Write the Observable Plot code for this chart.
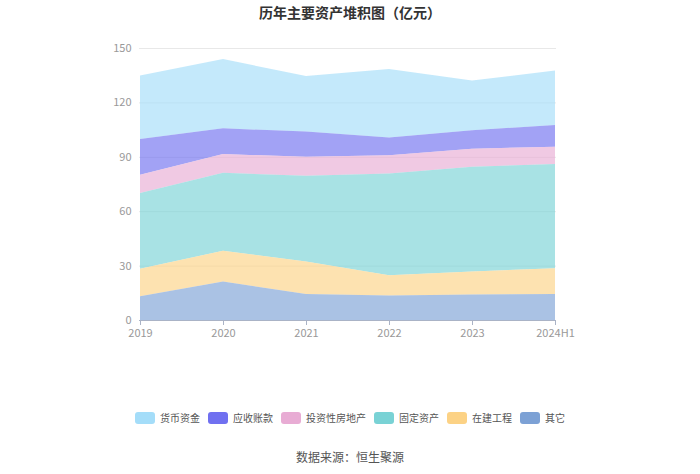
<!DOCTYPE html>
<html><head><meta charset="utf-8">
<script src="https://cdn.jsdelivr.net/npm/d3@7"></script>
<script src="https://cdn.jsdelivr.net/npm/@observablehq/plot@0.6"></script>
<style>
body{margin:0;background:#fff;font-family:"Noto Sans CJK SC","Noto Sans",sans-serif;}
#wrap{position:relative;width:700px;height:474px;overflow:hidden;}
#title{position:absolute;top:2px;left:0;width:700px;text-align:center;font-size:14px;font-weight:bold;color:#333;}
#chart{position:absolute;top:0;left:0;}
#legend{position:absolute;top:410px;left:0;width:700px;display:flex;justify-content:center;font-size:10px;color:#555;}
#legend .item{display:flex;align-items:center;margin:0 4px;}
#legend .sw{width:20px;height:12px;border-radius:3px;margin-right:5px;}
#caption{position:absolute;top:448px;left:0;width:700px;text-align:center;font-size:12px;color:#555;}
</style></head>
<body><div id="wrap"><div id="title">历年主要资产堆积图（亿元）</div><div id="chart"></div><div id="legend"></div><div id="caption">数据来源：恒生聚源</div></div>
<script>
const years = ["2019","2020","2021","2022","2023","2024H1"];
const seriesNames = ["货币资金","应收账款","投资性房地产","固定资产","在建工程","其它"];
const seriesColors = ["#a4ddf9","#7070f0","#e8acd4","#79d2d5","#fcd285","#7ca1d5"];
const money      = [35.1, 38.2, 30.6, 37.8, 27.5, 30.0];
const receivable = [19.7, 14.2, 13.9,  9.8, 10.1, 12.0];
const invProp    = [10.0, 10.3, 10.5, 10.0, 10.0,  9.6];
const fixedAsset = [41.9, 43.0, 47.2, 56.1, 57.7, 57.4];
const construct  = [15.1, 17.0, 17.9, 11.2, 12.8, 14.2];
const other      = [13.1, 21.2, 14.4, 13.5, 14.0, 14.4];
const yTicks = [0, 30, 60, 90, 120, 150];

const seriesValues = [money, receivable, invProp, fixedAsset, construct, other];
const data = [];
seriesNames.forEach((s, i) => years.forEach((y, j) => data.push({year: y, series: s, value: seriesValues[i][j]})));
const stackOrder = seriesNames.slice().reverse();

const plot = Plot.plot({
  width: 700, height: 345,
  marginLeft: 139, marginRight: 144, marginTop: 48, marginBottom: 25,
  style: {fontSize: "11px", fontFamily: "'Noto Sans CJK SC','Noto Sans',sans-serif", background: "transparent"},
  x: {type: "point", domain: years, padding: 0, label: null},
  y: {domain: [0, 150], label: null},
  color: {domain: seriesNames, range: seriesColors},
  marks: [
    Plot.gridY(yTicks, {stroke: "#e8e8e8", strokeOpacity: 1}),
    Plot.areaY(data, {x: "year", y: "value", z: "series", fill: "series", fillOpacity: 0.65, order: stackOrder}),
    Plot.ruleY([0], {stroke: "#aab3c6"}),
    Plot.axisX({tickSize: 5, stroke: "#aab3c6", fill: "#999", tickPadding: 4}),
    Plot.axisY(yTicks, {tickSize: 0, tickPadding: 8, fill: "#999"})
  ]
});
document.getElementById("chart").appendChild(plot);

const leg = document.getElementById("legend");
seriesNames.forEach((s, i) => {
  const it = document.createElement("div"); it.className = "item";
  const sw = document.createElement("div"); sw.className = "sw"; sw.style.background = seriesColors[i];
  const tx = document.createElement("span"); tx.textContent = s;
  it.appendChild(sw); it.appendChild(tx); leg.appendChild(it);
});
</script></body></html>
